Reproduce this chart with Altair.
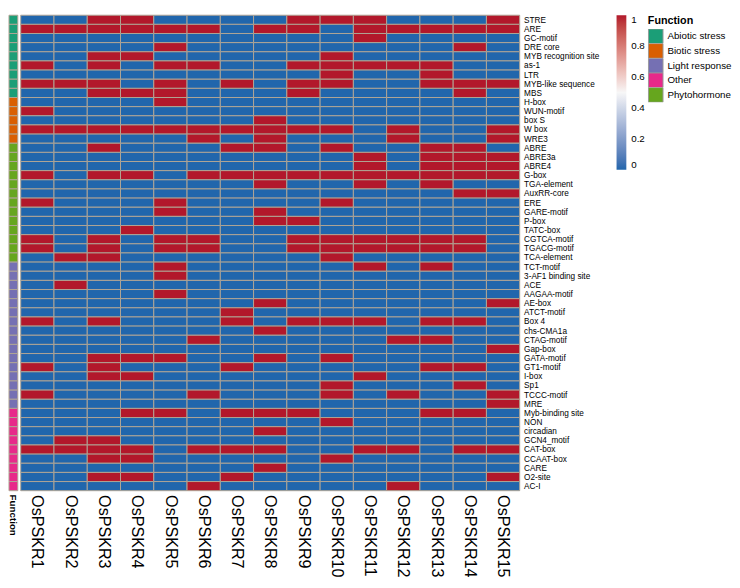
import altair as alt
import pandas as pd

genes = [f"OsPSKR{i}" for i in range(1, 16)]

motifs = [
    "STRE", "ARE", "GC-motif", "DRE core", "MYB recognition site", "as-1", "LTR",
    "MYB-like sequence", "MBS", "H-box", "WUN-motif", "box S", "W box", "WRE3",
    "ABRE", "ABRE3a", "ABRE4", "G-box", "TGA-element", "AuxRR-core", "ERE",
    "GARE-motif", "P-box", "TATC-box", "CGTCA-motif", "TGACG-motif", "TCA-element",
    "TCT-motif", "3-AF1 binding site", "ACE", "AAGAA-motif", "AE-box", "ATCT-motif",
    "Box 4", "chs-CMA1a", "CTAG-motif", "Gap-box", "GATA-motif", "GT1-motif", "I-box",
    "Sp1", "TCCC-motif", "MRE", "Myb-binding site", "NON", "circadian", "GCN4_motif",
    "CAT-box", "CCAAT-box", "CARE", "O2-site", "AC-I",
]

functions = (["Abiotic stress"] * 9 + ["Biotic stress"] * 5 + ["Phytohormone"] * 13
             + ["Light response"] * 16 + ["Other"] * 9)

values = [
    [0,0,1,1,0,0,0,0,1,1,1,0,0,0,1],  # STRE
    [1,1,1,1,1,1,0,1,1,0,1,1,1,1,1],  # ARE
    [0,0,0,0,0,0,0,0,0,0,1,0,0,0,0],  # GC-motif
    [0,0,0,0,1,0,0,0,0,0,0,0,0,1,0],  # DRE core
    [0,0,1,1,0,0,0,0,0,1,0,0,0,0,0],  # MYB recognition site
    [1,0,1,0,1,1,0,0,1,1,1,1,1,0,0],  # as-1
    [0,0,0,0,0,0,0,0,0,1,0,0,1,0,0],  # LTR
    [1,1,1,0,1,0,1,0,1,1,0,0,1,1,1],  # MYB-like sequence
    [0,0,1,1,1,0,0,0,1,0,0,0,0,1,0],  # MBS
    [0,0,0,0,1,0,0,0,0,0,0,0,0,0,0],  # H-box
    [1,0,0,0,0,0,0,0,0,0,0,0,0,0,0],  # WUN-motif
    [0,0,0,0,0,0,0,1,0,0,0,0,0,0,0],  # box S
    [1,1,1,1,1,1,1,1,1,1,0,1,0,0,1],  # W box
    [0,0,0,0,0,1,0,1,0,0,0,1,0,0,1],  # WRE3
    [0,0,1,0,0,0,1,1,0,1,0,0,1,1,0],  # ABRE
    [0,0,0,0,0,0,0,0,0,0,1,0,1,1,1],  # ABRE3a
    [0,0,0,0,0,0,0,0,0,0,1,0,1,1,1],  # ABRE4
    [1,0,1,1,0,1,1,1,1,1,1,1,1,1,1],  # G-box
    [0,0,0,0,0,0,0,1,0,0,1,0,1,0,0],  # TGA-element
    [0,0,0,0,0,0,0,0,0,0,0,0,0,1,1],  # AuxRR-core
    [1,0,0,0,1,0,0,0,0,1,0,0,0,0,0],  # ERE
    [0,0,0,0,1,0,0,1,0,0,0,0,0,0,0],  # GARE-motif
    [0,0,0,0,0,0,0,1,1,0,0,0,0,0,0],  # P-box
    [0,0,0,1,0,0,0,0,0,0,0,0,0,0,0],  # TATC-box
    [1,0,1,0,1,1,0,0,1,1,1,1,1,1,0],  # CGTCA-motif
    [1,0,1,0,1,1,0,0,1,1,1,1,1,1,0],  # TGACG-motif
    [0,1,1,0,0,0,0,0,0,1,0,0,0,0,0],  # TCA-element
    [0,0,0,0,1,0,0,0,0,0,1,0,1,0,0],  # TCT-motif
    [0,0,0,0,1,0,0,0,0,0,0,0,0,0,0],  # 3-AF1 binding site
    [0,1,0,0,0,0,0,0,0,0,0,0,0,0,0],  # ACE
    [0,0,0,0,1,0,0,0,0,0,0,0,0,0,0],  # AAGAA-motif
    [0,0,0,0,0,0,0,1,0,0,0,0,0,0,1],  # AE-box
    [0,0,0,0,0,0,1,0,0,0,0,0,0,0,0],  # ATCT-motif
    [1,0,1,0,0,0,1,0,1,1,1,0,1,1,0],  # Box 4
    [0,0,0,0,0,0,0,1,0,0,0,0,0,0,0],  # chs-CMA1a
    [0,0,0,0,0,1,0,0,0,0,0,1,1,0,0],  # CTAG-motif
    [0,0,0,0,0,0,0,0,0,0,0,0,0,0,1],  # Gap-box
    [0,0,1,1,1,0,0,1,0,1,0,0,0,0,0],  # GATA-motif
    [1,0,1,0,0,0,1,0,0,0,0,0,1,1,0],  # GT1-motif
    [0,0,1,1,0,0,0,0,0,0,1,0,0,0,0],  # I-box
    [0,0,0,0,0,0,0,0,0,1,0,0,0,1,0],  # Sp1
    [1,0,0,0,0,1,0,0,0,1,0,1,0,0,1],  # TCCC-motif
    [0,0,0,0,0,0,0,0,0,0,0,0,0,0,1],  # MRE
    [0,0,0,1,1,0,1,1,1,0,0,0,1,1,0],  # Myb-binding site
    [0,0,0,0,0,0,0,0,0,1,0,0,0,0,0],  # NON
    [0,0,0,0,0,0,0,1,0,0,0,0,0,0,0],  # circadian
    [0,1,1,0,0,0,0,0,0,0,0,0,0,0,0],  # GCN4_motif
    [1,1,1,1,0,1,1,1,0,0,1,1,0,1,1],  # CAT-box
    [0,0,1,1,0,0,0,0,0,1,0,0,0,0,0],  # CCAAT-box
    [0,0,0,0,0,0,0,1,0,0,0,0,0,0,0],  # CARE
    [0,0,1,1,0,0,1,0,0,0,0,0,0,0,1],  # O2-site
    [0,0,0,0,0,1,0,0,0,0,0,1,0,0,0],  # AC-I
]

fn_names = ["Abiotic stress", "Biotic stress", "Light response", "Other", "Phytohormone"]
fn_colors = ["#1B9E77", "#D95F02", "#7570B3", "#E7298A", "#66A61E"]
legend_ticks = [0, 0.2, 0.4, 0.6, 0.8, 1]

rows = []
for m, vals in zip(motifs, values):
    for g, v in zip(genes, vals):
        rows.append({"motif": m, "gene": g, "value": v})
df = pd.DataFrame(rows)
df_fn = pd.DataFrame({"motif": motifs, "function": functions})
df_title = pd.DataFrame({"t": ["Function"]})

W = 522
H = 486
FONT = "Liberation Sans"
GRID = "#b0a595"

y_enc = alt.Y(
    "motif:N", sort=motifs, title=None,
    scale=alt.Scale(paddingInner=0, paddingOuter=0),
    axis=alt.Axis(orient="right", domain=False, ticks=False, labelFontSize=8.4,
                  labelPadding=4, labelFont=FONT, labelColor="black"),
)

heat = alt.Chart(df).mark_rect(stroke=GRID, strokeWidth=1).encode(
    x=alt.X("gene:N", sort=genes, title=None,
            scale=alt.Scale(range=[12, W], paddingInner=0, paddingOuter=0),
            axis=alt.Axis(orient="bottom", labelAngle=90, labelFontSize=16.5,
                          domain=False, ticks=False, labelPadding=4,
                          labelFont=FONT, labelColor="black")),
    y=y_enc,
    color=alt.Color("value:Q", title=None,
                    scale=alt.Scale(domain=[0, 0.5, 1],
                                    range=["#2166AC", "#F7F7F7", "#B2182B"]),
                    legend=alt.Legend(orient="none", legendX=621, legendY=0,
                                      direction="vertical",
                                      gradientLength=158, gradientThickness=10,
                                      values=legend_ticks, format="~g",
                                      labelFontSize=10, labelFont=FONT,
                                      labelColor="black", labelOverlap=False,
                                      labelOffset=5, gradientStrokeWidth=0)),
)

strip = alt.Chart(df_fn).mark_rect(stroke=GRID, strokeWidth=1).encode(
    x=alt.value(0), x2=alt.value(9),
    y=y_enc,
    fill=alt.Fill("function:N", title="Function",
                  scale=alt.Scale(domain=fn_names, range=fn_colors),
                  legend=alt.Legend(orient="none", legendX=653, legendY=0,
                                    symbolType="square", symbolSize=225,
                                    symbolStrokeColor="#999999", symbolStrokeWidth=1,
                                    symbolOpacity=1, clipHeight=15,
                                    labelFontSize=10, labelFont=FONT, labelColor="black",
                                    labelOffset=4, rowPadding=0,
                                    titleFontSize=11, titleFont=FONT,
                                    titleFontWeight="bold", titleColor="black",
                                    titlePadding=3)),
)

fn_title = alt.Chart(df_title).mark_text(
    angle=90, align="left", baseline="middle", fontWeight="bold",
    fontSize=10, font=FONT, color="black",
).encode(x=alt.value(4.5), y=alt.value(H + 4), text="t:N")

chart = alt.layer(heat, strip, fn_title).properties(
    width=W, height=H, padding=0
).configure_view(strokeWidth=0).configure_legend(rowPadding=0)

chart.save("out.html", embed_options={"renderer": "svg", "actions": False})
